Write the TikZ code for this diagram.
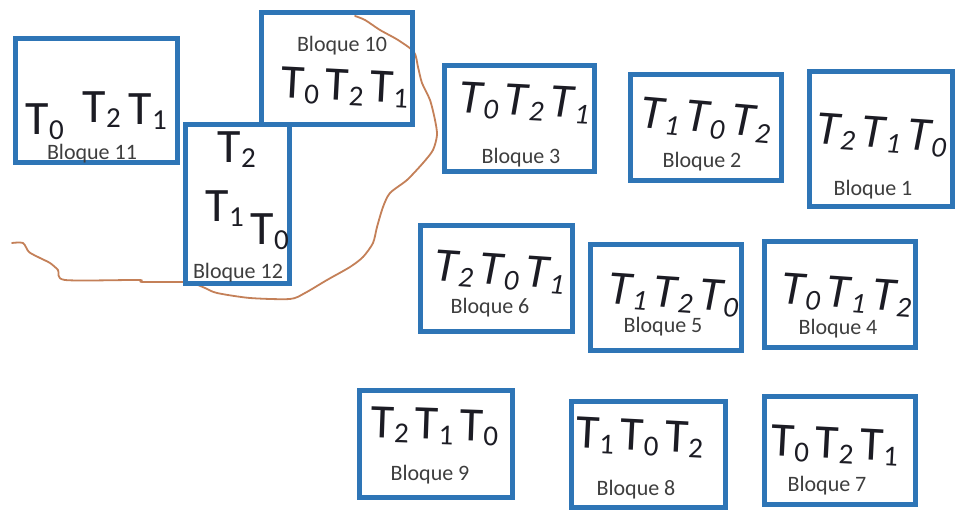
\documentclass[tikz,border=0pt]{standalone}
\usepackage{fontspec}
\setmainfont{Carlito}
\definecolor{bblue}{RGB}{46,117,182}
\definecolor{tcol}{RGB}{28,28,36}
\definecolor{lcol}{RGB}{62,62,62}
\definecolor{ccol}{RGB}{196,128,88}
\newcommand{\TT}[1]{T\kern0.5pt\raisebox{-5pt}{\fontsize{29}{29}\selectfont #1}}
\newcommand{\TTi}[1]{T\kern1.5pt\raisebox{-5pt}{\fontsize{29}{29}\selectfont #1}}
\newcommand{\TRow}[3]{\TT{#1}\hspace{6pt}\TT{#2}\hspace{6pt}\TT{#3}}
\newcommand{\TRowi}[3]{\TTi{#1}\hspace{6pt}\TTi{#2}\hspace{6pt}\TTi{#3}}
\begin{document}
\begin{tikzpicture}[x=1pt,y=-1pt,
  blk/.style={draw=bblue, line width=5pt, inner sep=0pt},
  trow/.style={anchor=base west, inner sep=0pt, text=tcol, font=\fontsize{48}{48}\selectfont},
  trowi/.style={trow, font=\fontsize{48}{48}\selectfont\itshape},
  lab/.style={inner sep=0pt, text=lcol, font=\fontsize{22}{22}\selectfont},
  curve/.style={draw=ccol, line width=1.8pt, line join=round, line cap=round}]
\fill[white] (0,0) rectangle (956,510);
\useasboundingbox (0,0) rectangle (956,510);

% hand-drawn curve
\draw[curve] plot[smooth, tension=0.45] coordinates {
 (12,243) (23,243) (29,252) (40,258) (50,263) (58,270) (65,280) (138,280) (142,282)
 (183,282) (195,284) (205,288) (217,293) (250,298) (290,299) (305,293) (327,280)
 (350,267) (363,257) (373,243) (377,227) (383,207) (390,193) (407,180) (423,163)
 (433,150) (437,135) (435,120) (430,100) (422,83) (418,67) (414,52) (398,40)
 (380,30) (365,20) (355,16)};

% blocks
\node[blk, minimum width=162pt, minimum height=124pt] (b11) at (96.5,100.5) {};
\node[blk, minimum width=151pt, minimum height=112pt] (b10) at (337,68.5) {};
\node[blk, minimum width=104pt, minimum height=159pt] (b12) at (237.5,204) {};
\node[blk, minimum width=150pt, minimum height=106pt] (b3) at (519.5,118.5) {};
\node[blk, minimum width=151pt, minimum height=106pt] (b2) at (706,127.5) {};
\node[blk, minimum width=143pt, minimum height=135pt] (b1) at (881,139) {};
\node[blk, minimum width=152pt, minimum height=106pt] (b6) at (496.5,278.5) {};
\node[blk, minimum width=151pt, minimum height=106pt] (b5) at (666,297.5) {};
\node[blk, minimum width=151pt, minimum height=106pt] (b4) at (840,294.5) {};
\node[blk, minimum width=153pt, minimum height=107pt] (b9) at (436,444) {};
\node[blk, minimum width=154pt, minimum height=106pt] (b8) at (648.5,454.5) {};
\node[blk, minimum width=151pt, minimum height=108pt] (b7) at (840,450.5) {};

% Bloque 11 tasks
\node[trow] (t11a) at (25,135) {\TT{0}};
\node[trow] (t11b) at (82,123) {\TT{2}};
\node[trow] (t11c) at (128,125) {\TT{1}};
% Bloque 12 tasks
\node[trow] (t12a) at (217,163) {\TT{2}};
\node[trow] (t12b) at (205,222) {\TT{1}};
\node[trow] (t12c) at (250,245) {\TT{0}};
% rows
\node[trow, rotate=-3] (r10) at (280,97) {\TRow{0}{2}{1}};
\node[trowi, rotate=-3] (r3) at (458,112) {\TRowi{0}{2}{1}};
\node[trowi, rotate=-5] (r2) at (639,127) {\TRowi{1}{0}{2}};
\node[trowi, rotate=-4] (r1) at (815,143) {\TRowi{2}{1}{0}};
\node[trowi, rotate=-4] (r6) at (433,280) {\TRowi{2}{0}{1}};
\node[trowi, rotate=-4] (r5) at (607,303) {\TRowi{1}{2}{0}};
\node[trowi, rotate=-4] (r4) at (780,303) {\TRowi{0}{1}{2}};
\node[trow, rotate=-2] (r9) at (370,437) {\TRow{2}{1}{0}};
\node[trow, rotate=-3] (r8) at (575,447) {\TRow{1}{0}{2}};
\node[trow, rotate=-3] (r7) at (770,455) {\TRow{0}{2}{1}};

% labels
\node[lab] (l11) at (92,154) {Bloque 11};
\node[lab] (l10) at (342,46) {Bloque 10};
\node[lab] (l12) at (238,273) {Bloque 12};
\node[lab] (l3) at (521,158) {Bloque 3};
\node[lab] (l2) at (702,162) {Bloque 2};
\node[lab] (l1) at (873,190) {Bloque 1};
\node[lab] (l6) at (490,308) {Bloque 6};
\node[lab] (l5) at (663,327) {Bloque 5};
\node[lab] (l4) at (838,329) {Bloque 4};
\node[lab] (l9) at (430,475) {Bloque 9};
\node[lab] (l8) at (636,490) {Bloque 8};
\node[lab] (l7) at (827,486) {Bloque 7};
\end{tikzpicture}
\end{document}
